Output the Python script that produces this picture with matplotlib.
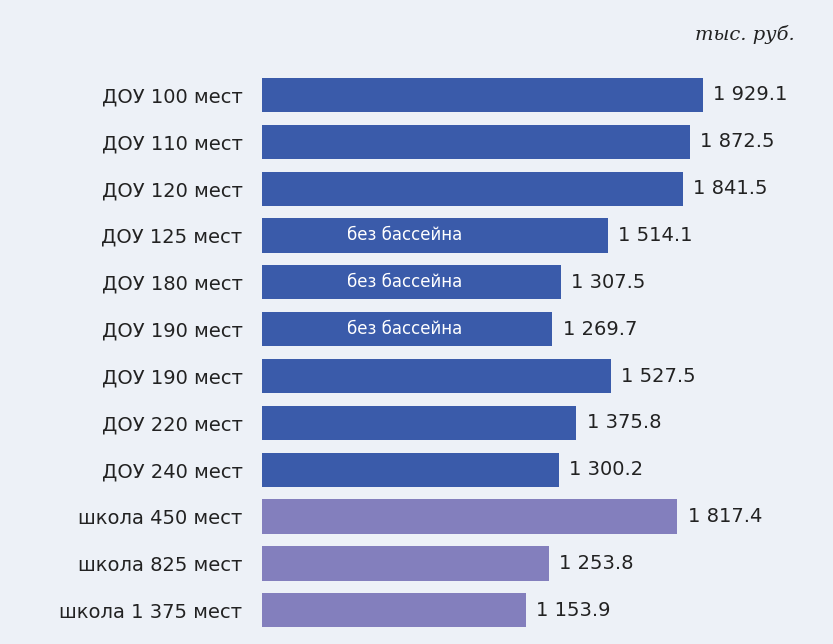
import matplotlib.pyplot as plt

labels = ['ДОУ 100 мест', 'ДОУ 110 мест', 'ДОУ 120 мест', 'ДОУ 125 мест', 'ДОУ 180 мест',
          'ДОУ 190 мест', 'ДОУ 190 мест', 'ДОУ 220 мест', 'ДОУ 240 мест',
          'школа 450 мест', 'школа 825 мест', 'школа 1 375 мест']
values = [1929.1, 1872.5, 1841.5, 1514.1, 1307.5, 1269.7, 1527.5, 1375.8, 1300.2,
          1817.4, 1253.8, 1153.9]
notes = ['', '', '', 'без бассейна', 'без бассейна', 'без бассейна', '', '', '', '', '', '']

bg = '#EDF1F7'
blue = '#3A5BAA'
purple = '#837FBD'
colors = [purple if l.startswith('школа') else blue for l in labels]

fig = plt.figure(figsize=(8.33, 6.44), dpi=100, facecolor=bg)
ax = fig.add_axes([262 / 833, 0.016, 571 / 833, 0.873])
ax.set_facecolor(bg)

y = list(range(len(values)))
ax.barh(y, values, height=0.73, color=colors)
for i, v in enumerate(values):
    txt = f'{v:,.1f}'.replace(',', ' ')
    ax.text(v + 45, i, txt, va='center', ha='left', fontsize=14, color='#222222')
    if notes[i]:
        ax.text(626, i, notes[i], va='center', ha='center', fontsize=12, color='white')

ax.set_xlim(0, 2498)
ax.set_ylim(len(values) - 0.5, -0.5)
ax.set_yticks(y)
ax.set_yticklabels(labels, fontsize=14, color='#222222')
ax.tick_params(axis='y', length=0, pad=14)
ax.set_xticks([])
for s in ax.spines.values():
    s.set_visible(False)

fig.text(795 / 833, 1 - 35 / 644, 'тыс. руб.', ha='right', va='center',
         fontsize=14, family='DejaVu Serif', style='italic', color='#222222')

fig.savefig('out.png', dpi=100, facecolor=bg)
